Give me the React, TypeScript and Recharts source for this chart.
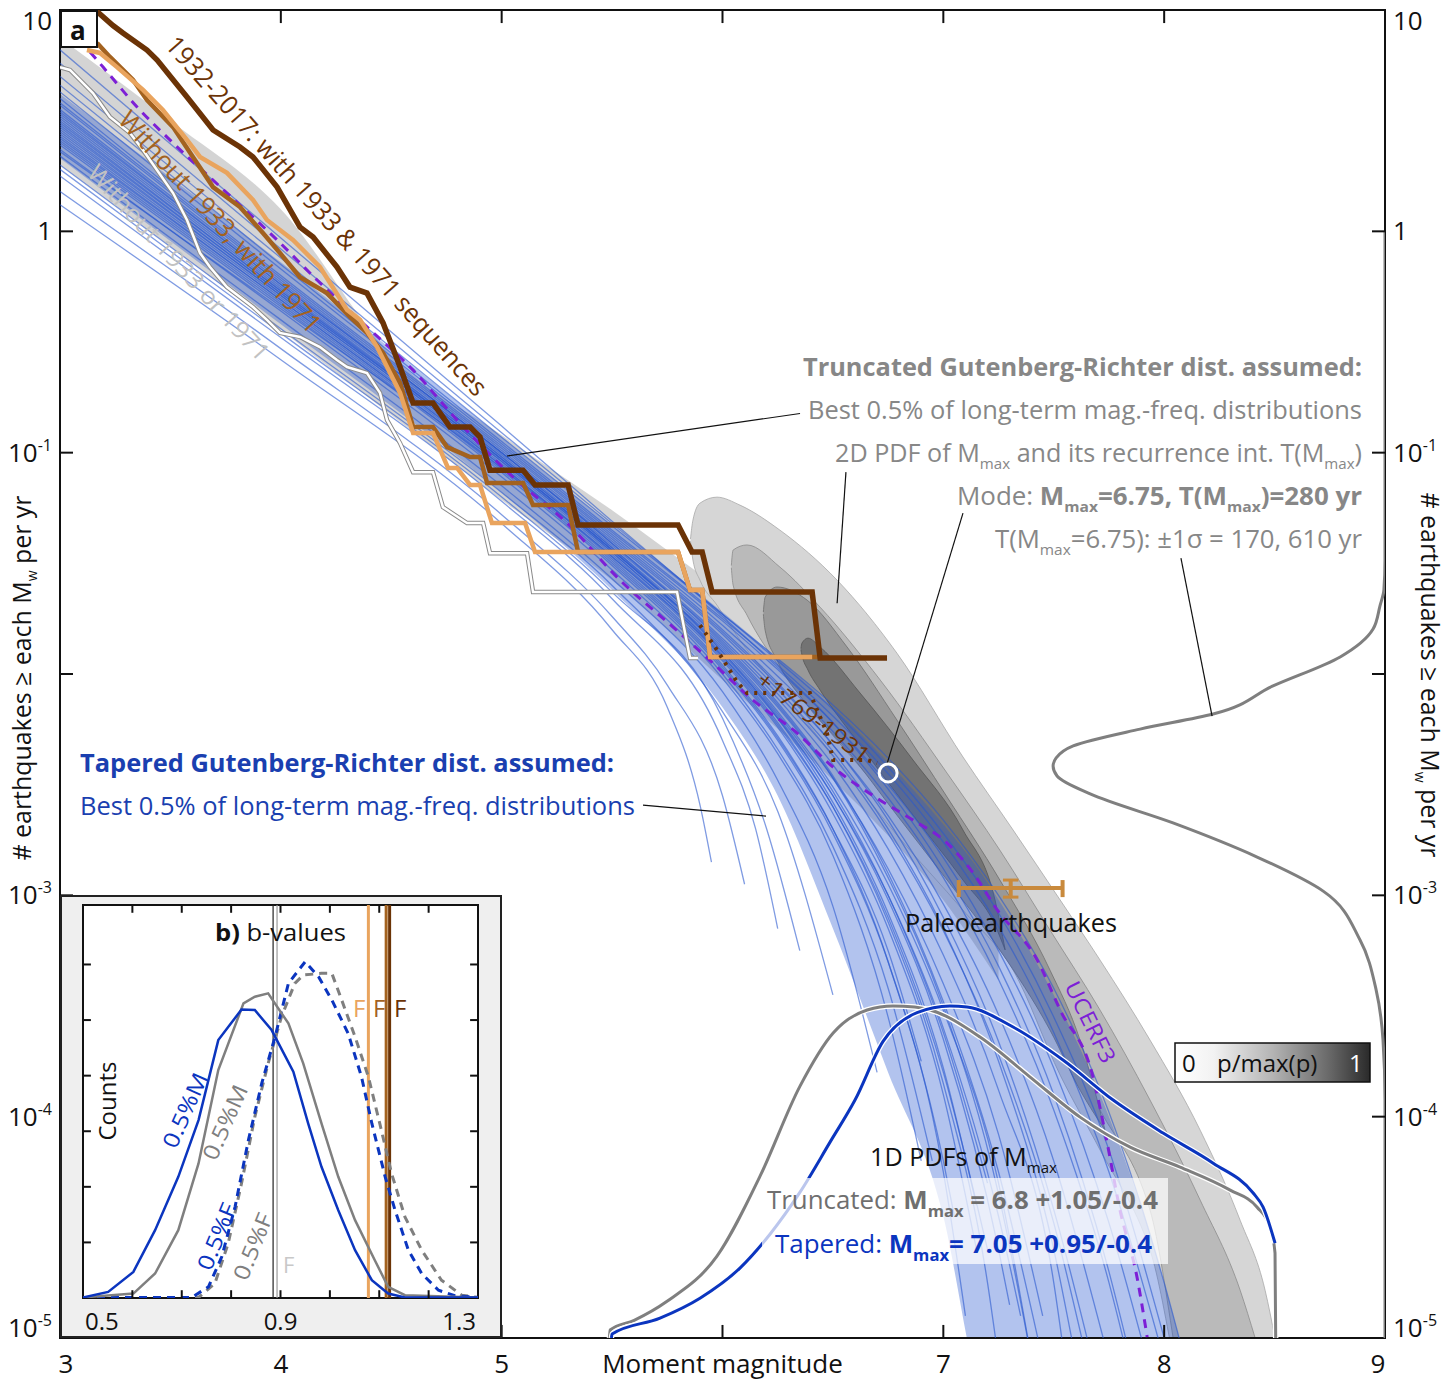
import React from "react"
import {
  ComposedChart, Line, Area, XAxis, YAxis,
  ReferenceLine, ReferenceArea, ReferenceDot,
} from "recharts"

const FONT = "'Open Sans', 'Noto Sans', sans-serif"

const DK = "#6b3306"
const MB = "#a3621f"
const OR = "#e9a45e"
const PURPLE = "#7d1fd6"
const BLUE = "#2a58cf"
const PDF_BLUE = "#0b35bf"
const PDF_GRAY = "#7f7f7f"
const PALEO_C = "#c98a3d"
const TXT_GRAY = "#878787"
const TXT_BLUE = "#1a3fb0"

type P = [number, number]
type R = [number, number, number]

// axis ticks (magnitude, log10 rate)
const X_TICKS = [3, 4, 5, 6, 7, 8, 9]
const Y_DECADES = [-5, -4, -3, -2, -1, 0, 1]

// catalogue curves: [Mw, log10 annual rate]
const CAT_ALL: P[] = [[3.16,1.0],[3.24,0.93],[3.285,0.896],[3.394,0.819],[3.44,0.774],[3.575,0.607],[3.693,0.458],[3.815,0.381],[3.874,0.336],[3.983,0.2],[4.087,0.019],[4.146,-0.026],[4.254,-0.161],[4.313,-0.252],[4.39,-0.279],[4.463,-0.414],[4.54,-0.613],[4.599,-0.776],[4.689,-0.776],[4.766,-0.884],[4.857,-0.884],[4.902,-0.929],[4.947,-1.079],[5.097,-1.079],[5.151,-1.146],[5.301,-1.146],[5.346,-1.327],[5.799,-1.327],[5.862,-1.449],[5.908,-1.449],[5.953,-1.63],[6.406,-1.63],[6.442,-1.928],[6.745,-1.928]]
const CAT_NO33: P[] = [[3.168,0.851],[3.226,0.788],[3.331,0.684],[3.394,0.593],[3.512,0.471],[3.602,0.336],[3.693,0.2],[3.815,0.11],[3.919,-0.008],[3.996,-0.098],[4.087,-0.207],[4.209,-0.279],[4.313,-0.387],[4.39,-0.459],[4.463,-0.55],[4.54,-0.685],[4.599,-0.884],[4.689,-0.884],[4.753,-0.975],[4.857,-1.02],[4.902,-1.02],[4.934,-1.137],[5.097,-1.137],[5.142,-1.237],[5.301,-1.237],[5.346,-1.449],[5.799,-1.449],[5.853,-1.621],[5.908,-1.621],[5.944,-1.923],[6.442,-1.923]]
const CAT_OR: P[] = [[3.122,0.819],[3.181,0.806],[3.258,0.742],[3.376,0.639],[3.466,0.548],[3.575,0.413],[3.634,0.336],[3.756,0.264],[3.874,0.142],[3.937,0.051],[4.055,-0.039],[4.177,-0.161],[4.3,-0.355],[4.359,-0.4],[4.436,-0.523],[4.481,-0.613],[4.54,-0.73],[4.599,-0.911],[4.689,-0.911],[4.757,-1.069],[4.798,-1.069],[4.857,-1.146],[4.902,-1.146],[4.956,-1.318],[5.106,-1.318],[5.151,-1.449],[5.799,-1.449],[5.853,-1.621],[5.908,-1.621],[5.944,-1.923],[6.406,-1.923]]
const CAT_NONE: P[] = [[3.0,0.742],[3.045,0.729],[3.149,0.625],[3.226,0.517],[3.317,0.444],[3.376,0.367],[3.439,0.277],[3.512,0.173],[3.575,0.051],[3.634,-0.098],[3.679,-0.161],[3.756,-0.252],[3.874,-0.342],[3.937,-0.4],[3.996,-0.459],[4.087,-0.477],[4.177,-0.523],[4.254,-0.581],[4.3,-0.613],[4.39,-0.64],[4.449,-0.73],[4.481,-0.853],[4.54,-0.957],[4.599,-1.088],[4.689,-1.088],[4.734,-1.246],[4.843,-1.318],[4.916,-1.318],[4.947,-1.454],[5.115,-1.454],[5.142,-1.63],[5.794,-1.63],[5.853,-1.928],[5.889,-1.928]]
const HIST_1769: P[] = [[5.898,-1.779],[5.975,-1.891],[6.066,-2.036],[6.111,-2.086],[6.396,-2.086],[6.473,-2.267],[6.501,-2.389],[6.655,-2.389],[6.7,-2.402]]
const UCERF3: P[] = [[3.136,0.81],[3.195,0.742],[3.349,0.562],[3.512,0.399],[3.756,0.173],[3.983,-0.039],[4.164,-0.22],[4.39,-0.432],[4.599,-0.627],[4.798,-0.853],[5.051,-1.11],[5.296,-1.318],[5.536,-1.576],[5.776,-1.788],[5.957,-1.951],[6.138,-2.118],[6.338,-2.267],[6.501,-2.421],[6.714,-2.57],[6.863,-2.66],[7.017,-2.764],[7.135,-2.899],[7.244,-3.066],[7.425,-3.292],[7.529,-3.518],[7.678,-3.821],[7.742,-4.119],[7.8,-4.422],[7.877,-4.725],[7.923,-4.996]]

// tapered GR distributions (best 0.5%), [Mw, log10 rate]
const BLUE_LINES: P[][] = [
  [[3,0.12],[4,-0.58],[5,-1.32],[5.5,-1.8],[5.75,-2.15],[5.9,-2.6],[5.95,-2.85]],
  [[3,0.18],[4,-0.53],[5,-1.28],[5.5,-1.74],[5.75,-2.05],[6,-2.55],[6.1,-2.95]],
  [[3,0.25],[4,-0.48],[5,-1.22],[5.5,-1.66],[6,-2.3],[6.15,-2.7],[6.25,-3.15]],
  [[3,0.28],[4,-0.46],[5,-1.2],[5.5,-1.63],[6,-2.2],[6.2,-2.7],[6.35,-3.25]],
  [[3,0.3],[4,-0.44],[5,-1.18],[5.5,-1.6],[6,-2.17],[6.25,-2.62],[6.5,-3.45]],
  [[3,0.34],[4,-0.4],[5,-1.15],[5.5,-1.57],[6,-2.08],[6.25,-2.48],[6.5,-3.05],[6.7,-3.8]],
  [[3,0.37],[4,-0.36],[5,-1.11],[5.5,-1.53],[6,-2.02],[6.25,-2.36],[6.5,-2.82],[6.75,-3.55],[6.9,-4.2]],
  [[3,0.39],[4,-0.34],[5,-1.09],[5.5,-1.51],[6,-2.0],[6.25,-2.34],[6.5,-2.78],[6.75,-3.42],[6.95,-4.2]],
  [[3,0.41],[4,-0.32],[5,-1.07],[5.5,-1.49],[6,-1.97],[6.25,-2.29],[6.5,-2.7],[6.75,-3.25],[6.9,-3.75]],
  [[3,0.4],[4,-0.33],[5,-1.08],[5.5,-1.5],[6,-1.98],[6.25,-2.3],[6.5,-2.72],[6.75,-3.3],[7,-4.2],[7.05,-4.45]],
  [[3,0.43],[4,-0.31],[5,-1.06],[5.5,-1.48],[6,-1.96],[6.25,-2.28],[6.5,-2.7],[6.75,-3.3],[7,-4.25],[7.1,-4.9]],
  [[3,0.42],[4,-0.31],[5,-1.06],[5.5,-1.47],[6,-1.94],[6.25,-2.24],[6.5,-2.63],[6.75,-3.15],[7,-3.9],[7.15,-4.6]],
  [[3,0.36],[4,-0.35],[5,-1.07],[5.5,-1.47],[6,-1.92],[6.25,-2.2],[6.5,-2.55],[6.75,-3.0],[7,-3.6],[7.25,-4.45],[7.35,-4.9]],
  [[3,0.44],[4,-0.3],[5,-1.05],[5.5,-1.46],[6,-1.93],[6.25,-2.23],[6.5,-2.6],[6.75,-3.1],[7,-3.8],[7.2,-4.6]],
  [[3,0.46],[4,-0.29],[5,-1.04],[5.5,-1.45],[6,-1.92],[6.25,-2.22],[6.5,-2.6],[6.75,-3.12],[7,-3.85],[7.2,-4.75],[7.25,-5.1]],
  [[3,0.51],[4,-0.26],[5,-1.02],[5.5,-1.43],[6,-1.9],[6.25,-2.2],[6.5,-2.58],[6.75,-3.08],[7,-3.78],[7.15,-4.4]],
  [[3,0.45],[4,-0.29],[5,-1.04],[5.5,-1.45],[6,-1.91],[6.25,-2.19],[6.5,-2.55],[6.75,-3.02],[7,-3.65],[7.25,-4.6],[7.3,-4.85]],
  [[3,0.48],[4,-0.28],[5,-1.03],[5.5,-1.44],[6,-1.9],[6.25,-2.18],[6.5,-2.53],[6.75,-3.0],[7,-3.62],[7.2,-4.3]],
  [[3,0.47],[4,-0.28],[5,-1.03],[5.5,-1.44],[6,-1.89],[6.25,-2.17],[6.5,-2.51],[6.75,-2.95],[7,-3.52],[7.25,-4.3],[7.4,-5.1]],
  [[3,0.49],[4,-0.27],[5,-1.02],[5.5,-1.43],[6,-1.87],[6.25,-2.14],[6.5,-2.47],[6.75,-2.92],[7,-3.5],[7.25,-4.35],[7.4,-5.1]],
  [[3,0.5],[4,-0.27],[5,-1.03],[5.5,-1.44],[6,-1.88],[6.25,-2.15],[6.5,-2.47],[6.75,-2.88],[7,-3.4],[7.25,-4.08],[7.45,-4.9]],
  [[3,0.53],[4,-0.24],[5,-1.0],[5.5,-1.41],[6,-1.86],[6.25,-2.13],[6.5,-2.46],[6.75,-2.9],[7,-3.48],[7.25,-4.25],[7.45,-5.1]],
  [[3,0.52],[4,-0.25],[5,-1.01],[5.5,-1.42],[6,-1.85],[6.25,-2.11],[6.5,-2.41],[6.75,-2.79],[7,-3.27],[7.25,-3.88],[7.5,-4.75],[7.55,-5.1]],
  [[3,0.54],[4,-0.24],[5,-1.0],[5.5,-1.41],[6,-1.84],[6.25,-2.09],[6.5,-2.37],[6.75,-2.72],[7,-3.16],[7.25,-3.72],[7.5,-4.48],[7.65,-5.1]],
  [[3,0.55],[4,-0.23],[5,-1.0],[5.5,-1.4],[6,-1.82],[6.25,-2.07],[6.5,-2.35],[6.75,-2.7],[7,-3.15],[7.25,-3.75],[7.5,-4.6],[7.6,-5.1]],
  [[3,0.57],[4,-0.22],[5,-0.99],[5.5,-1.39],[6,-1.81],[6.25,-2.05],[6.5,-2.32],[6.75,-2.64],[7,-3.04],[7.25,-3.54],[7.5,-4.2],[7.75,-5.1]],
  [[3,0.58],[4,-0.21],[5,-0.98],[5.5,-1.38],[6,-1.8],[6.25,-2.04],[6.5,-2.32],[6.75,-2.66],[7,-3.1],[7.25,-3.66],[7.5,-4.42],[7.7,-5.2]],
  [[3,0.6],[4,-0.2],[5,-0.97],[5.5,-1.37],[6,-1.78],[6.25,-2.01],[6.5,-2.26],[6.75,-2.56],[7,-2.92],[7.25,-3.38],[7.5,-3.97],[7.75,-4.75],[7.85,-5.15]],
  [[3,0.63],[4,-0.17],[5,-0.96],[5.5,-1.36],[6,-1.76],[6.25,-1.98],[6.5,-2.22],[6.75,-2.5],[7,-2.83],[7.25,-3.25],[7.5,-3.78],[7.75,-4.48],[7.95,-5.2]],
  [[3,0.66],[4,-0.15],[5,-0.95],[5.5,-1.35],[6,-1.75],[6.25,-1.96],[6.5,-2.19],[6.75,-2.45],[7,-2.76],[7.25,-3.14],[7.5,-3.62],[7.75,-4.25],[8,-5.1]],
  [[3,0.7],[4,-0.12],[5,-0.93],[5.5,-1.33],[6,-1.73],[6.25,-1.93],[6.5,-2.14],[6.75,-2.38],[7,-2.66],[7.25,-3.0],[7.5,-3.42],[7.75,-3.98],[8,-4.75],[8.12,-5.2]],
  [[3,0.76],[4,-0.08],[5,-0.91],[5.5,-1.32],[6,-1.73],[6.25,-1.94],[6.5,-2.16],[6.75,-2.42],[7,-2.72],[7.25,-3.08],[7.5,-3.55],[7.75,-4.15],[8,-5.0]],
  [[3,0.82],[4,-0.03],[5,-0.88],[5.5,-1.31],[6,-1.74],[6.25,-1.97],[6.5,-2.22],[6.75,-2.52],[7,-2.88],[7.25,-3.32],[7.5,-3.9],[7.75,-4.7],[7.85,-5.1]],
]
// envelope of the dense part of the tapered bundle: [Mw, lo, hi]
const BLUE_ENV: R[] = [[3,0.33,0.62],[4,-0.42,-0.14],[5,-1.18,-0.93],[5.5,-1.62,-1.33],[6,-2.15,-1.72],[6.25,-2.55,-1.93],[6.5,-3.15,-2.15],[6.75,-3.8,-2.4],[7,-4.45,-2.68],[7.15,-5.2,-2.87],[7.25,-5.5,-3.02],[7.5,-5.5,-3.45],[7.75,-5.5,-4.0],[8,-5.5,-4.75],[8.12,-5.5,-5.2]]

// truncated GR bundle and 2D PDF contours: [Mw, lo, hi]
const GR_BAND: R[] = [[3.0,0.3,0.873],[3.5,-0.07,0.5],[4.0,-0.446,0.1],[4.5,-0.83,-0.56],[5.0,-1.214,-0.92],[5.5,-1.576,-1.26],[6.0,-2.027,-1.62],[6.5,-2.479,-1.95],[7.0,-3.021,-2.389],[7.25,-3.383,-2.66]]
const CONTOUR_1: R[] = [[5.855,-1.4,-1.39],[5.866,-1.485,-1.305],[5.898,-1.576,-1.228],[5.975,-1.689,-1.201],[6.079,-1.847,-1.237],[6.26,-2.073,-1.35],[6.519,-2.389,-1.576],[6.79,-2.728,-1.906],[7.089,-3.067,-2.375],[7.316,-3.338,-2.705],[7.529,-3.812,-3.021],[7.71,-4.151,-3.293],[7.936,-4.603,-3.654],[8.163,-5.5,-4.061],[8.344,-5.5,-4.468],[8.457,-5.5,-4.784],[8.502,-5.5,-5.0]]
const CONTOUR_2: R[] = [[6.04,-1.52,-1.51],[6.048,-1.598,-1.44],[6.111,-1.734,-1.417],[6.26,-1.973,-1.517],[6.442,-2.208,-1.698],[6.714,-2.525,-2.027],[7.017,-2.886,-2.448],[7.256,-3.202,-2.796],[7.483,-3.564,-3.157],[7.71,-3.971,-3.519],[7.936,-4.422,-3.925],[8.163,-5.5,-4.377],[8.344,-5.5,-4.784],[8.412,-5.5,-5.0]]
const CONTOUR_3: R[] = [[6.185,-1.73,-1.72],[6.193,-1.802,-1.653],[6.247,-1.937,-1.607],[6.383,-2.14,-1.666],[6.564,-2.344,-1.878],[6.79,-2.638,-2.208],[7.017,-2.931,-2.556],[7.256,-3.247,-2.931],[7.483,-3.609,-3.338],[7.619,-3.88,-3.654],[7.732,-4.061,-4.06]]
const CONTOUR_4: R[] = [[6.355,-1.89,-1.885],[6.36,-1.915,-1.86],[6.387,-1.982,-1.838],[6.442,-2.073,-1.878],[6.623,-2.321,-2.086],[6.863,-2.638,-2.389],[7.089,-2.931,-2.705],[7.234,-3.135,-3.021],[7.28,-3.247,-3.246]]

// 1D PDFs of Mmax (drawn in axis units) and PDF of T(Mmax)
const MMAX_TRUNC: P[] = [[5.488,-5.0],[5.491,-4.964],[5.6,-4.92],[5.749,-4.834],[5.975,-4.63],[6.17,-4.269],[6.351,-3.862],[6.501,-3.622],[6.655,-3.518],[6.772,-3.5],[6.87,-3.505],[6.94,-3.518],[7.166,-3.64],[7.393,-3.821],[7.619,-4.002],[7.846,-4.138],[8.072,-4.228],[8.299,-4.332],[8.421,-4.409],[8.48,-4.499],[8.502,-4.616],[8.505,-5.0]]
const MMAX_TAPER: P[] = [[5.497,-5.0],[5.5,-4.982],[5.717,-4.91],[5.898,-4.82],[6.079,-4.684],[6.215,-4.531],[6.351,-4.341],[6.487,-4.115],[6.6,-3.925],[6.727,-3.66],[6.881,-3.53],[7.03,-3.5],[7.108,-3.505],[7.316,-3.595],[7.542,-3.744],[7.769,-3.925],[7.995,-4.074],[8.222,-4.21],[8.403,-4.345],[8.448,-4.409],[8.502,-4.571]]
const T_PDF: P[] = [[9,0],[9,-1.485],[8.995,-1.62],[8.977,-1.693],[8.946,-1.797],[8.797,-1.923],[8.493,-2.054],[8.222,-2.181],[7.891,-2.249],[7.588,-2.325],[7.511,-2.379],[7.497,-2.416],[7.515,-2.461],[7.665,-2.542],[8.04,-2.673],[8.421,-2.827],[8.72,-2.981],[8.887,-3.202],[8.96,-3.428],[8.991,-3.654],[9,-3.925],[9,-5]]

const MODE: P = [6.75, -2.447]
const PALEO_MAG = [7.07, 7.305, 7.54]
const PALEO_LG = [-3.008, -2.967, -2.931]
const POINTERS: P[][] = [
  [[6.351,-0.823],[5.024,-1.015]],
  [[6.559,-1.088],[6.519,-1.68]],
  [[7.089,-1.273],[6.745,-2.406]],
  [[8.076,-1.476],[8.217,-2.19]],
  [[5.64,-2.592],[6.197,-2.642]],
]

// inset b: [b-value, counts]
const B_TAPER_M: P[] = [[0.5,1],[0.551,11],[0.602,47],[0.646,122],[0.693,218],[0.734,320],[0.774,464],[0.821,519],[0.848,518],[0.882,482],[0.926,407],[0.956,314],[0.983,236],[1.017,158],[1.051,86],[1.085,32],[1.118,8],[1.152,1],[1.3,1]]
const B_TRUNC_M: P[] = [[0.5,1],[0.602,8],[0.646,44],[0.693,122],[0.734,242],[0.774,410],[0.825,530],[0.848,542],[0.875,548],[0.916,494],[0.946,422],[0.983,314],[1.017,218],[1.051,140],[1.091,68],[1.118,20],[1.152,5],[1.3,1]]
const B_TAPER_F: P[] = [[0.5,1],[0.72,1],[0.754,20],[0.781,74],[0.808,164],[0.835,284],[0.862,386],[0.889,470],[0.916,566],[0.95,605],[0.977,578],[1.004,536],[1.037,476],[1.064,398],[1.085,314],[1.112,218],[1.132,158],[1.159,86],[1.186,44],[1.22,14],[1.253,4],[1.3,1]]
const B_TRUNC_F: P[] = [[0.5,1],[0.734,1],[0.767,26],[0.794,98],[0.821,206],[0.848,326],[0.875,422],[0.902,506],[0.929,566],[0.946,581],[0.983,584],[1.004,584],[1.024,536],[1.051,470],[1.078,398],[1.101,314],[1.125,224],[1.152,146],[1.186,86],[1.226,32],[1.267,5],[1.3,1]]
const B_TICKS = [0.5, 0.9, 1.3]
const B_MINOR = [0.6, 0.7, 0.8, 0.9, 1.0, 1.1, 1.2]
const COUNT_TICKS = [100, 200, 300, 400, 500, 600]
const B_CAT = { none: 0.885, noneT: 0.893, orange: 1.078, no33: 1.114, all: 1.121 }

const pts = (a: P[]) => a.map(([m, lg]) => ({ m, v: 10 ** lg }))
const rng = (a: R[]) => a.map(([m, lo, hi]) => ({ m, v: [10 ** lo, 10 ** hi] }))
const bpts = (a: P[]) => a.map(([b, c]) => ({ b, c }))
const r = (lg: number) => 10 ** lg

// eslint-disable-next-line @typescript-eslint/no-explicit-any
function XTick(p: any) {
  const v = p.payload.value
  const shift = v === 3 ? 6 : v === 9 ? -7 : 0
  return (
    <text x={p.x + shift} y={p.y + 27} textAnchor="middle" fontSize={26} fontFamily={FONT} fill="#111">
      {v === 6 ? "Moment magnitude" : String(v)}
    </text>
  )
}

// eslint-disable-next-line @typescript-eslint/no-explicit-any
function YTick(p: any, right: boolean) {
  const e = Math.round(Math.log10(p.payload.value))
  if (e === -2) return <g />
  const off = e === 1 ? 11 : e === -5 ? -10 : 0
  return (
    <text x={p.x} y={p.y + off} dy="0.35em" textAnchor={right ? "start" : "end"} fontSize={26} fontFamily={FONT} fill="#111">
      {e === 1 ? "10" : e === 0 ? "1" : <>10<tspan dy={-11} fontSize={16}>{e}</tspan></>}
    </text>
  )
}

// eslint-disable-next-line @typescript-eslint/no-explicit-any
function BTick(p: any) {
  const v = p.payload.value
  const anchor = v === 0.5 ? "start" : v === 1.3 ? "end" : "middle"
  const dx = v === 0.5 ? 2 : v === 1.3 ? -2 : 0
  return (
    <text x={p.x + dx} y={p.y + 24} textAnchor={anchor} fontSize={24} fontFamily={FONT} fill="#111">{String(v)}</text>
  )
}

interface TxtProps {
  x: number; y: number; size?: number; fill?: string; anchor?: "start" | "middle" | "end"
  weight?: number; rot?: number; len?: number; children: React.ReactNode
}
function Txt({ x, y, size = 25, fill = "#111", anchor = "start", weight = 400, rot = 0, len, children }: TxtProps) {
  return (
    <text x={x} y={y} fontSize={size} fill={fill} textAnchor={anchor} fontWeight={weight} fontFamily={FONT}
      transform={rot ? `rotate(${rot} ${x} ${y})` : undefined}
      textLength={len} lengthAdjust={len ? "spacingAndGlyphs" : undefined}>
      {children}
    </text>
  )
}

const line = (data: P[], stroke: string, w: number, extra = {}) => (
  <Line data={pts(data)} dataKey="v" type="linear" stroke={stroke} strokeWidth={w} dot={false} isAnimationActive={false} {...extra} />
)

export default function App() {
  const tickLen = 0.059
  return (
    <div style={{ position: "absolute", left: 0, top: 0, width: 1455, height: 1382, background: "#fff" }}>
      <ComposedChart width={1455} height={1382} margin={{ top: 10, right: 0, bottom: 0, left: 0 }}>
        <XAxis type="number" dataKey="m" domain={[3, 9]} ticks={X_TICKS} interval={0} allowDataOverflow
          height={44} axisLine={false} tickLine={false} tick={(p) => <XTick {...p} />} />
        <YAxis type="number" scale="log" domain={[1e-5, 10]} ticks={Y_DECADES.map(r)} interval={0} allowDataOverflow
          width={60} axisLine={false} tickLine={false} tick={(p) => YTick(p, false)} />
        <YAxis yAxisId="right" orientation="right" type="number" scale="log" domain={[1e-5, 10]} ticks={Y_DECADES.map(r)}
          interval={0} allowDataOverflow width={70} axisLine={false} tickLine={false} tick={(p) => YTick(p, true)} />

        <Area data={rng(GR_BAND)} dataKey="v" type="monotone" fill="#c9c9c9" fillOpacity={0.8} stroke="none" isAnimationActive={false} />
        <Area data={rng(CONTOUR_1)} dataKey="v" type="monotone" fill="#d6d6d6" fillOpacity={1} stroke="#a8a8a8" strokeWidth={0.8} isAnimationActive={false} />
        <Area data={rng(CONTOUR_2)} dataKey="v" type="monotone" fill="#bababa" fillOpacity={1} stroke="#8c8c8c" strokeWidth={0.8} isAnimationActive={false} />
        <Area data={rng(CONTOUR_3)} dataKey="v" type="monotone" fill="#999999" fillOpacity={1} stroke="#6e6e6e" strokeWidth={0.8} isAnimationActive={false} />
        <Area data={rng(CONTOUR_4)} dataKey="v" type="monotone" fill="#737373" fillOpacity={1} stroke="#555" strokeWidth={0.8} isAnimationActive={false} />
        <Area data={rng(BLUE_ENV)} dataKey="v" type="monotone" fill={BLUE} fillOpacity={0.36} stroke="none" isAnimationActive={false} />

        {BLUE_LINES.map((b, i) => (
          <Line key={"b" + i} data={pts(b)} dataKey="v" type="monotone" stroke={BLUE} strokeOpacity={0.6}
            strokeWidth={1.3} dot={false} isAnimationActive={false} />
        ))}

        {line(UCERF3, PURPLE, 3, { type: "monotone", strokeDasharray: "9 7" })}
        {line(CAT_NONE, "#8a8a8a", 4.5)}
        {line(CAT_NONE, "#ffffff", 2.5)}
        {line(CAT_NO33, MB, 4.5)}
        {line(CAT_OR, OR, 4.5)}
        {line(CAT_ALL, DK, 5.5)}
        {line(HIST_1769, DK, 4, { strokeDasharray: "3 6" })}

        {line(MMAX_TRUNC, "#ffffff", 5.5, { type: "monotone" })}
        {line(MMAX_TRUNC, PDF_GRAY, 3, { type: "monotone" })}
        {line(MMAX_TAPER, "#ffffff", 5.5, { type: "monotone" })}
        {line(MMAX_TAPER, PDF_BLUE, 3, { type: "monotone" })}
        {line(T_PDF, PDF_GRAY, 3, { type: "monotoneY" })}

        {/* inner ticks */}
        {[4, 5, 6, 7, 8].map(m => (
          <ReferenceLine key={"xb" + m} segment={[{ x: m, y: r(-5) }, { x: m, y: r(-5 + tickLen) }]} stroke="#111" strokeWidth={2} />
        ))}
        {[4, 5, 6, 7, 8].map(m => (
          <ReferenceLine key={"xt" + m} segment={[{ x: m, y: r(1) }, { x: m, y: r(1 - tickLen) }]} stroke="#111" strokeWidth={2} />
        ))}
        {[-4, -3, -2, -1, 0].map(d => (
          <ReferenceLine key={"yl" + d} segment={[{ x: 3, y: r(d) }, { x: 3 + tickLen, y: r(d) }]} stroke="#111" strokeWidth={2} />
        ))}
        {[-4, -3, -2, -1, 0].map(d => (
          <ReferenceLine key={"yr" + d} segment={[{ x: 9 - tickLen, y: r(d) }, { x: 9, y: r(d) }]} stroke="#111" strokeWidth={2} />
        ))}

        {POINTERS.map((s, i) => (
          <ReferenceLine key={"p" + i} segment={[{ x: s[0][0], y: r(s[0][1]) }, { x: s[1][0], y: r(s[1][1]) }]} stroke="#111" strokeWidth={1.2} />
        ))}

        {/* paleoearthquake error bars */}
        <ReferenceLine segment={[{ x: PALEO_MAG[0], y: r(PALEO_LG[1]) }, { x: PALEO_MAG[2], y: r(PALEO_LG[1]) }]} stroke={PALEO_C} strokeWidth={4} />
        <ReferenceLine segment={[{ x: PALEO_MAG[0], y: r(PALEO_LG[0]) }, { x: PALEO_MAG[0], y: r(PALEO_LG[2]) }]} stroke={PALEO_C} strokeWidth={4} />
        <ReferenceLine segment={[{ x: PALEO_MAG[2], y: r(PALEO_LG[0]) }, { x: PALEO_MAG[2], y: r(PALEO_LG[2]) }]} stroke={PALEO_C} strokeWidth={4} />
        <ReferenceLine segment={[{ x: PALEO_MAG[1], y: r(PALEO_LG[0]) }, { x: PALEO_MAG[1], y: r(PALEO_LG[2]) }]} stroke={PALEO_C} strokeWidth={4} />
        <ReferenceLine segment={[{ x: PALEO_MAG[1] - 0.035, y: r(PALEO_LG[0]) }, { x: PALEO_MAG[1] + 0.035, y: r(PALEO_LG[0]) }]} stroke={PALEO_C} strokeWidth={3} />
        <ReferenceLine segment={[{ x: PALEO_MAG[1] - 0.035, y: r(PALEO_LG[2]) }, { x: PALEO_MAG[1] + 0.035, y: r(PALEO_LG[2]) }]} stroke={PALEO_C} strokeWidth={3} />

        <ReferenceDot x={MODE[0]} y={r(MODE[1])} r={9} fill="none" stroke="#fff" strokeWidth={3} />
        <ReferenceArea x1={3} x2={9} y1={1e-5} y2={10} fill="none" stroke="#111" strokeWidth={2} />
      </ComposedChart>

      {/* inset b */}
      <div style={{ position: "absolute", left: 60, top: 895, width: 442, height: 443, background: "#efefef", border: "2px solid #222", boxSizing: "border-box" }} />
      <div style={{ position: "absolute", left: 83, top: 905, width: 395, height: 393, background: "#fff" }} />
      <div style={{ position: "absolute", left: 60, top: 895 }}>
        <ComposedChart width={442} height={443} margin={{ top: 10, right: 24, bottom: 0, left: 23 }}>
          <XAxis type="number" dataKey="b" domain={[0.5, 1.3]} ticks={B_TICKS} interval={0} allowDataOverflow
            height={40} axisLine={false} tickLine={false} tick={(p) => <BTick {...p} />} />
          <YAxis type="number" domain={[0, 707]} hide allowDataOverflow />
          <ReferenceLine x={B_CAT.none} stroke="#222" strokeWidth={1.2} />
          <ReferenceLine x={B_CAT.noneT} stroke="#9a9a9a" strokeWidth={1.2} />
          <ReferenceLine x={B_CAT.orange} stroke={OR} strokeWidth={3} />
          <ReferenceLine x={B_CAT.no33} stroke={MB} strokeWidth={3} />
          <ReferenceLine x={B_CAT.all} stroke={DK} strokeWidth={3} />
          <Line data={bpts(B_TRUNC_F)} dataKey="c" type="linear" stroke={PDF_GRAY} strokeWidth={3} strokeDasharray="8 6" dot={false} isAnimationActive={false} />
          <Line data={bpts(B_TAPER_F)} dataKey="c" type="linear" stroke={PDF_BLUE} strokeWidth={3} strokeDasharray="8 6" dot={false} isAnimationActive={false} />
          <Line data={bpts(B_TRUNC_M)} dataKey="c" type="linear" stroke={PDF_GRAY} strokeWidth={2.5} dot={false} isAnimationActive={false} />
          <Line data={bpts(B_TAPER_M)} dataKey="c" type="linear" stroke={PDF_BLUE} strokeWidth={2.5} dot={false} isAnimationActive={false} />
          {B_MINOR.map(b => (
            <ReferenceLine key={"bb" + b} segment={[{ x: b, y: 0 }, { x: b, y: 14 }]} stroke="#111" strokeWidth={2} />
          ))}
          {B_MINOR.map(b => (
            <ReferenceLine key={"bt" + b} segment={[{ x: b, y: 707 }, { x: b, y: 693 }]} stroke="#111" strokeWidth={2} />
          ))}
          {COUNT_TICKS.map(c => (
            <ReferenceLine key={"cl" + c} segment={[{ x: 0.5, y: c }, { x: 0.516, y: c }]} stroke="#111" strokeWidth={2} />
          ))}
          {COUNT_TICKS.map(c => (
            <ReferenceLine key={"cr" + c} segment={[{ x: 1.284, y: c }, { x: 1.3, y: c }]} stroke="#111" strokeWidth={2} />
          ))}
          <ReferenceArea x1={0.5} x2={1.3} y1={0} y2={707} fill="none" stroke="#111" strokeWidth={2} />
        </ComposedChart>
      </div>

      {/* annotations */}
      <svg width={1455} height={1382} style={{ position: "absolute", left: 0, top: 0, pointerEvents: "none" }}>
        <defs>
          <linearGradient id="pgrad" x1="0" y1="0" x2="1" y2="0">
            <stop offset="0%" stopColor="#ffffff" />
            <stop offset="20%" stopColor="#f2f2f2" />
            <stop offset="50%" stopColor="#b4b4b4" />
            <stop offset="80%" stopColor="#666" />
            <stop offset="100%" stopColor="#2a2a2a" />
          </linearGradient>
        </defs>

        <rect x={61} y={11} width={36} height={36} fill="#fff" stroke="#111" strokeWidth={2} />
        <Txt x={70} y={40} size={26} weight={700}>a</Txt>

        <Txt x={164} y={46} size={26} fill={DK} rot={48.5} len={470}>1932-2017: with 1933 &amp; 1971 sequences</Txt>
        <Txt x={117} y={121} size={26} fill={MB} rot={48} len={288}>Without 1933, with 1971</Txt>
        <Txt x={86} y={174} size={24} fill="#c2c2c2" rot={47.5} len={256}>Without 1933 or 1971</Txt>
        <Txt x={755} y={683} size={22} fill={DK} rot={37} len={135}>+1769-1931</Txt>
        <Txt x={1064} y={986} size={22} fill={PURPLE} rot={64} len={88}>UCERF3</Txt>

        <Txt x={1362} y={376} anchor="end" fill={TXT_GRAY} weight={700} len={559}>Truncated Gutenberg-Richter dist. assumed:</Txt>
        <Txt x={1362} y={419} anchor="end" fill={TXT_GRAY} len={554}>Best 0.5% of long-term mag.-freq. distributions</Txt>
        <Txt x={1362} y={462} anchor="end" fill={TXT_GRAY} len={527}>
          2D PDF of M<tspan dy={7} fontSize={15}>max</tspan><tspan dy={-7}> and its recurrence int. T(M</tspan><tspan dy={7} fontSize={15}>max</tspan><tspan dy={-7}>)</tspan>
        </Txt>
        <Txt x={1362} y={505} anchor="end" fill={TXT_GRAY} len={405}>
          Mode: <tspan fontWeight={700}>M</tspan><tspan dy={7} fontSize={15} fontWeight={700}>max</tspan><tspan dy={-7} fontWeight={700}>=6.75, T(M</tspan><tspan dy={7} fontSize={15} fontWeight={700}>max</tspan><tspan dy={-7} fontWeight={700}>)=280 yr</tspan>
        </Txt>
        <Txt x={1362} y={548} anchor="end" fill={TXT_GRAY} len={367}>
          T(M<tspan dy={7} fontSize={15}>max</tspan><tspan dy={-7}>=6.75): ±1σ = 170, 610 yr</tspan>
        </Txt>

        <Txt x={80} y={772} fill={TXT_BLUE} weight={700} len={534}>Tapered Gutenberg-Richter dist. assumed:</Txt>
        <Txt x={80} y={815} fill={TXT_BLUE} len={555}>Best 0.5% of long-term mag.-freq. distributions</Txt>

        <Txt x={905} y={932} len={212}>Paleoearthquakes</Txt>

        <rect x={762} y={1178} width={406} height={86} fill="#fff" fillOpacity={0.72} />
        <Txt x={870} y={1166} len={187}>1D PDFs of M<tspan dy={7} fontSize={15}>max</tspan></Txt>
        <Txt x={767} y={1209} fill="#6f6f6f" len={391}>
          Truncated: <tspan fontWeight={700}>M</tspan><tspan dy={8} fontSize={16} fontWeight={700}>max</tspan><tspan dy={-8} fontWeight={700}> = 6.8 +1.05/-0.4</tspan>
        </Txt>
        <Txt x={775} y={1253} fill={PDF_BLUE} len={377}>
          Tapered: <tspan fontWeight={700}>M</tspan><tspan dy={8} fontSize={16} fontWeight={700}>max</tspan><tspan dy={-8} fontWeight={700}>= 7.05 +0.95/-0.4</tspan>
        </Txt>

        <rect x={1175} y={1043} width={195} height={39} fill="url(#pgrad)" stroke="#111" strokeWidth={1.5} />
        <Txt x={1182} y={1072} size={24}>0</Txt>
        <Txt x={1217} y={1072} size={24}>p/max(p)</Txt>
        <Txt x={1349} y={1072} size={24} fill="#fff">1</Txt>

        <Txt x={31} y={678} size={25} anchor="middle" rot={-90} len={365}>
          # earthquakes ≥ each M<tspan dy={6} fontSize={14}>w</tspan><tspan dy={-6}> per yr</tspan>
        </Txt>
        <Txt x={1421} y={675} size={25} anchor="middle" rot={90} len={365}>
          # earthquakes ≥ each M<tspan dy={6} fontSize={14}>w</tspan><tspan dy={-6}> per yr</tspan>
        </Txt>

        {/* inset labels */}
        <Txt x={215} y={941} size={24} len={131}><tspan fontWeight={700}>b)</tspan> b-values</Txt>
        <Txt x={116} y={1101} size={24} anchor="middle" rot={-90}>Counts</Txt>
        <Txt x={176} y={1150} size={22} fill={PDF_BLUE} rot={-66} len={80}>0.5%M</Txt>
        <Txt x={216} y={1162} size={22} fill={PDF_GRAY} rot={-66} len={80}>0.5%M</Txt>
        <Txt x={211} y={1272} size={22} fill={PDF_BLUE} rot={-68} len={70}>0.5%F</Txt>
        <Txt x={247} y={1282} size={22} fill={PDF_GRAY} rot={-68} len={70}>0.5%F</Txt>
        <Txt x={283} y={1273} size={22} fill="#c8c8c8">F</Txt>
        <Txt x={353} y={1017} size={24} fill={OR}>F</Txt>
        <Txt x={373} y={1017} size={24} fill={MB}>F</Txt>
        <Txt x={394} y={1017} size={24} fill={DK}>F</Txt>
      </svg>
    </div>
  )
}
